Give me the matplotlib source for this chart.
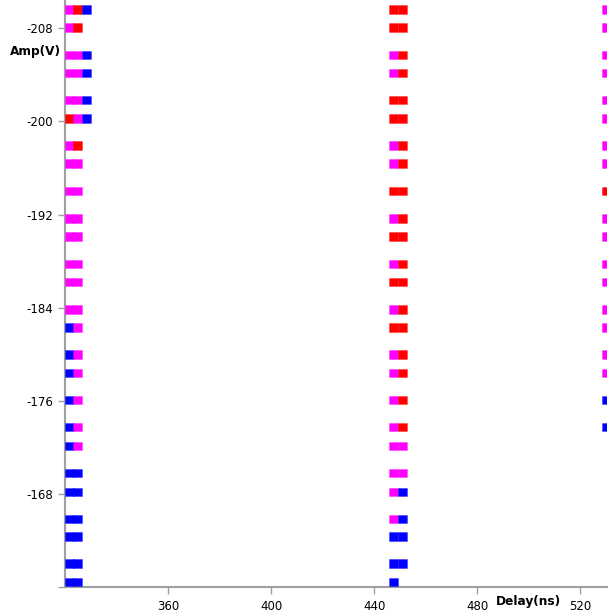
import matplotlib
matplotlib.use("Agg")
import matplotlib.pyplot as plt

# Amplitude rows (V)
amp = [-209.63, -208.05, -205.71, -204.16, -201.85, -200.27, -197.92, -196.38,
       -194.03, -191.69, -190.11, -187.77, -186.22, -183.88, -182.30, -179.96,
       -178.41, -176.09, -173.77, -172.14, -169.82, -168.19, -165.87, -164.33,
       -162.01, -160.46]

# Delay columns (ns)
delays = [321.5, 324.8, 328.1, 447.5, 450.9, 530.3]

# status code per row for each delay column: M=magenta, R=red, B=blue, .=none
col_codes = [
    "MMMMMRMMMMMMMMBBBBBBBBBBBB",
    "RRMMMMRMMMMMMMMMMMMMBBBBBB",
    "B.BBBB....................",
    "RRMMRRMMRMRMRMRMMMMMMMMBBB",
    "RRRRRRRRRRRRRRRRRRRMMBBBB.",
    "MMMMMMMMRMMMMMMMMBB.......",
]

color_map = {"M": "#ff00ff", "R": "#ff0000", "B": "#0000ff"}

yticks = [-208, -200, -192, -184, -176, -168, -160]
ytick_labels = ["-208", "-200", "-192", "-184", "-176", "-168", ""]
xticks = [360, 400, 440, 480, 520]

fig = plt.figure(figsize=(6.08, 6.15), dpi=100)
ax = fig.add_axes([65 / 608, (615 - 587.3) / 615, (607 - 65) / 608, 587.3 / 615])

xs, ys, cs = [], [], []
for d, codes in zip(delays, col_codes):
    for a, c in zip(amp, codes):
        if c in color_map:
            xs.append(d)
            ys.append(a)
            cs.append(color_map[c])

ax.scatter(xs, ys, c=cs, marker="s", s=40, linewidths=0.6,
           edgecolors=[c + "55" for c in cs], zorder=3)

ax.set_xlim(319.85, 530.5)
ax.set_ylim(-160.0, -210.43)

ax.set_xticks(xticks)
ax.set_yticks(yticks)
ax.set_xticklabels([str(v) for v in xticks])
ax.set_yticklabels(ytick_labels)

for s in ["top", "right"]:
    ax.spines[s].set_visible(False)
for s in ["left", "bottom"]:
    ax.spines[s].set_color("#a0a0a0")
    ax.spines[s].set_linewidth(1.5)
ax.tick_params(axis="both", colors="#a0a0a0", labelcolor="black",
               labelsize=8.5, length=5, width=1)
ax.tick_params(axis="x", pad=4)

fig.text(10 / 608, 1 - 52 / 615, "Amp(V)", fontsize=8.7, fontweight="bold",
         ha="left", va="center")
fig.text(496 / 608, 1 - 601 / 615, "Delay(ns)", fontsize=8.7, fontweight="bold",
         ha="left", va="center")

fig.savefig("out.png", dpi=100)
